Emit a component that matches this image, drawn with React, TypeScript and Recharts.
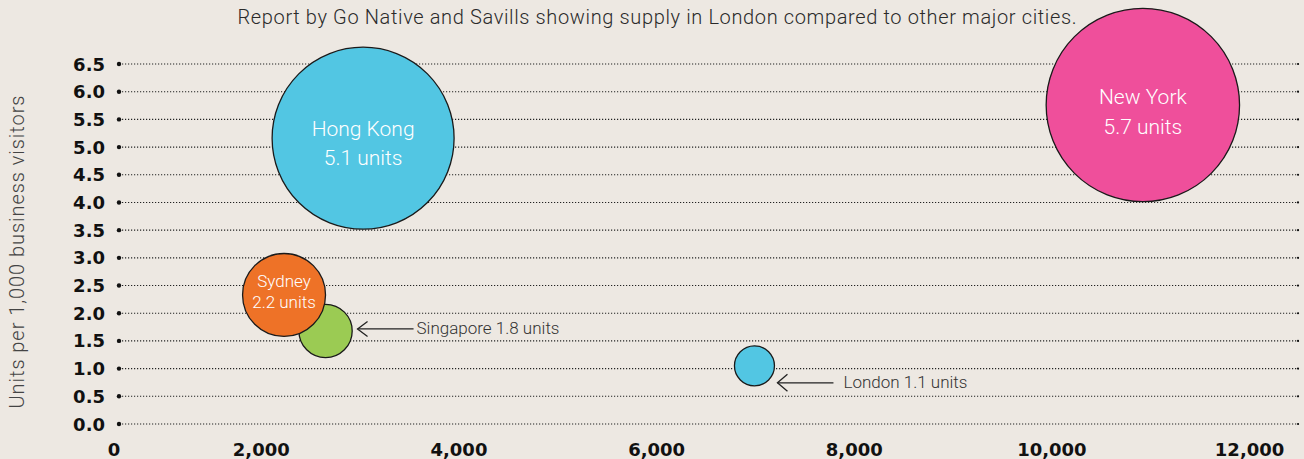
import React from 'react';
import { ScatterChart, Scatter, XAxis, YAxis, ZAxis, CartesianGrid } from 'recharts';

// ---- data ----
const CITIES = ['Singapore', 'Sydney', 'Hong Kong', 'New York', 'London'];
const X_VALUES = [2650, 2230, 3030, 10920, 6990];
const UNITS = [1.68, 2.33, 5.16, 5.76, 1.05];
const BUBBLE_SIZE = [7.1, 17.2, 82.8, 93.5, 4.0];
const UNIT_LABELS = ['1.8 units', '2.2 units', '5.1 units', '5.7 units', '1.1 units'];

const Y_TICKS = [0, 0.5, 1, 1.5, 2, 2.5, 3, 3.5, 4, 4.5, 5, 5.5, 6, 6.5];
const X_START = 560;
const X_END = 12500;
const X_TICKS = [560, 2000, 4000, 6000, 8000, 10000, 12000];
const X_TICK_LABELS = ['0', '2,000', '4,000', '6,000', '8,000', '10,000', '12,000'];

const TITLE = 'Report by Go Native and Savills showing supply in London compared to other major cities.';
const Y_TITLE = 'Units per 1,000 business visitors';

// ---- styles ----
const W = 1304;
const H = 459;
const BG = '#EDE8E2';
const LIGHT = "Roboto, 'Open Sans', sans-serif";
const BOLD = "'DejaVu Sans', sans-serif";
const PLOT_RIGHT = 1299;
const MAX_R = 96.7;

type CityStyle = {
  fill: string;
  inside?: { size: number; dy1: number; dy2: number };
  callout?: { tipX: number; dy: number; lineEnd: number; textX: number; textDy: number; arm: number };
};

const CITY_STYLE: Record<string, CityStyle> = {
  'Singapore': { fill: '#9BCB53', callout: { tipX: 32, dy: -2, lineEnd: 88, textX: 91, textDy: 3, arm: 7.5 } },
  'Sydney': { fill: '#EE7227', inside: { size: 17, dy1: -8, dy2: 13 } },
  'Hong Kong': { fill: '#52C6E3', inside: { size: 21, dy1: -2, dy2: 27 } },
  'New York': { fill: '#EF4F9B', inside: { size: 21, dy1: -1, dy2: 29 } },
  'London': { fill: '#52C6E3', callout: { tipX: 23, dy: 17, lineEnd: 79, textX: 89, textDy: 22, arm: 8.5 } },
};

const data = CITIES.map((city, i) => ({
  city,
  x: X_VALUES[i],
  y: UNITS[i],
  z: BUBBLE_SIZE[i],
  label: UNIT_LABELS[i],
}));

const Bubble = (props: any) => {
  const { cx, cy, payload } = props;
  const r = props.size ? Math.sqrt(props.size / Math.PI) : props.width / 2;
  const st = CITY_STYLE[payload.city];
  const c = st.callout;
  return (
    <g>
      <circle cx={cx} cy={cy} r={r} fill={st.fill} stroke="#1a1a1a" strokeWidth={1.3} />
      {st.inside && (
        <g fontFamily={LIGHT} fontWeight={300} fontSize={st.inside.size} fill="#FFFFFF" textAnchor="middle">
          <text x={cx} y={cy + st.inside.dy1}>{payload.city}</text>
          <text x={cx} y={cy + st.inside.dy2}>{payload.label}</text>
        </g>
      )}
      {c && (
        <g>
          <line x1={cx + c.tipX} y1={cy + c.dy} x2={cx + c.lineEnd} y2={cy + c.dy} stroke="#222" strokeWidth={1.3} />
          <polyline
            points={`${cx + c.tipX + 10},${cy + c.dy - c.arm} ${cx + c.tipX},${cy + c.dy} ${cx + c.tipX + 10},${cy + c.dy + c.arm}`}
            fill="none"
            stroke="#222"
            strokeWidth={1.3}
          />
          <text x={cx + c.textX} y={cy + c.textDy} fontFamily={LIGHT} fontWeight={300} fontSize={17} fill="#333">
            {`${payload.city} ${payload.label}`}
          </text>
        </g>
      )}
    </g>
  );
};

const YTick = (props: any) => {
  const { x, y, payload } = props;
  return (
    <g>
      <text x={x} y={y + 6.5} textAnchor="end" fontFamily={BOLD} fontWeight="bold" fontSize={18} fill="#111">
        {Number(payload.value).toFixed(1)}
      </text>
      <circle cx={x + 14} cy={y} r={2.2} fill="#111" />
      <circle cx={PLOT_RIGHT - 1} cy={y} r={1.1} fill="#111" />
    </g>
  );
};

const XTick = (props: any) => {
  const { x, y, payload, index } = props;
  const i = X_TICKS.indexOf(payload.value);
  return (
    <text x={index === 0 ? x - 5 : x} y={y + 32} textAnchor="middle" fontFamily={BOLD} fontWeight="bold" fontSize={18} fill="#111">
      {X_TICK_LABELS[i >= 0 ? i : index]}
    </text>
  );
};

export default function App() {
  return (
    <div style={{ position: 'absolute', left: 0, top: 0, width: W, height: H, background: BG, overflow: 'hidden' }}>
      <ScatterChart width={W} height={H} margin={{ top: 64, right: W - PLOT_RIGHT, bottom: 0, left: 0 }}>
        <CartesianGrid horizontal vertical={false} stroke="#222" strokeWidth={1.1} strokeDasharray="1.2 1.8" />
        <XAxis
          type="number"
          dataKey="x"
          domain={[X_START, X_END]}
          ticks={X_TICKS}
          height={35}
          axisLine={false}
          tickLine={false}
          tickSize={0}
          tickMargin={0}
          tick={<XTick />}
          interval={0}
          allowDataOverflow
        />
        <YAxis
          type="number"
          dataKey="y"
          domain={[0, 6.5]}
          ticks={Y_TICKS}
          width={119}
          axisLine={false}
          tickLine={false}
          tickSize={0}
          tickMargin={14}
          tick={<YTick />}
          interval={0}
        />
        <ZAxis type="number" dataKey="z" domain={[0, 93.5]} range={[0, Math.PI * MAX_R * MAX_R]} />
        <Scatter data={data} shape={<Bubble />} isAnimationActive={false} />
        <text
          x={657}
          y={24}
          textAnchor="middle"
          fontFamily={LIGHT}
          fontWeight={300}
          fontSize={20}
          fill="#2a2a2a"
          textLength={839}
          lengthAdjust="spacing"
        >
          {TITLE}
        </text>
        <text
          x={0}
          y={0}
          transform="translate(24,252) rotate(-90)"
          textAnchor="middle"
          fontFamily={LIGHT}
          fontWeight={300}
          fontSize={20}
          fill="#444"
          textLength={313}
          lengthAdjust="spacing"
        >
          {Y_TITLE}
        </text>
      </ScatterChart>
    </div>
  );
}
